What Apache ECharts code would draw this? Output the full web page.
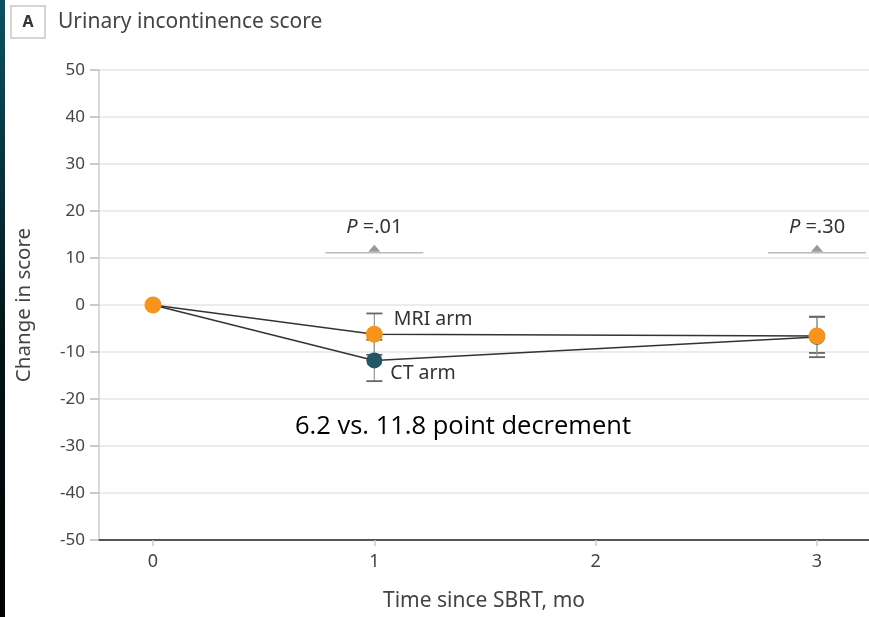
<!DOCTYPE html>
<html>
<head>
<meta charset="utf-8">
<script src="https://cdn.jsdelivr.net/npm/echarts@6/dist/echarts.min.js"></script>
<style>
html,body{margin:0;padding:0;background:#fff;}
#chart{width:869px;height:617px;}
</style>
</head>
<body>
<div id="chart"></div>
<script>
// ---- data ----
const months = [0, 1, 3];
const mriArm = [0, -6.2, -6.6];
const ctArm = [0, -11.8, -6.8];
const mriCILow = [null, -10.6, -10.2];
const mriCIHigh = [null, -1.8, -2.5];
const ctCILow = [null, -16.2, -11.1];
const ctCIHigh = [null, -7.4, -2.5];
const xTicks = [0, 1, 2, 3];
const pMonths = [1, 3];
const pLevel = [11.1, 11.1];
const pValues = ['.01', '.30'];
const armLabels = ['MRI arm', 'CT arm'];
const titleText = 'Urinary incontinence score';
const panelLetter = 'A';
const noteText = '6.2 vs. 11.8 point decrement';

const FONT = 'Noto Sans';
const chart = echarts.init(document.getElementById('chart'));

const errData = [];
months.forEach((m, i) => {
  if (mriCILow[i] != null) errData.push([m, mriCILow[i], mriCIHigh[i]]);
  if (ctCILow[i] != null) errData.push([m, ctCILow[i], ctCIHigh[i]]);
});

function seriesData(vals, labelIdx, text, offset) {
  return months.map((m, i) => {
    const d = { value: [m, vals[i]] };
    if (i === labelIdx) {
      d.label = { show: true, formatter: text, position: 'right', offset: offset,
        fontFamily: FONT, fontSize: 19.5, color: '#333' };
    }
    return d;
  });
}

const option = {
  animation: false,
  backgroundColor: '#fff',
  grid: { left: 99, right: 0, top: 70, bottom: 77, containLabel: false },
  xAxis: {
    type: 'value', min: -0.244, max: 3.235,
    name: 'Time since SBRT, mo', nameLocation: 'middle', nameGap: 51,
    nameTextStyle: { fontFamily: FONT, fontSize: 21, color: '#444' },
    axisLine: { show: true, onZero: false, lineStyle: { color: '#555', width: 2 } },
    axisTick: { show: true, customValues: xTicks, length: 6, lineStyle: { color: '#ccc', width: 1.5 } },
    axisLabel: { customValues: xTicks, margin: 13, fontFamily: FONT, fontSize: 18, color: '#444' },
    splitLine: { show: false }
  },
  yAxis: {
    type: 'value', min: -50, max: 50, interval: 10,
    name: 'Change in score', nameLocation: 'middle', nameGap: 64, nameRotate: 90,
    nameTextStyle: { fontFamily: FONT, fontSize: 20.5, color: '#444' },
    axisLine: { show: true, onZero: false, lineStyle: { color: '#ccc', width: 1.5 } },
    axisTick: { show: true, length: 9, lineStyle: { color: '#bbb', width: 1.5 } },
    axisLabel: { margin: 14, fontFamily: FONT, fontSize: 17, color: '#444' },
    splitLine: { show: true, lineStyle: { color: '#e6e6e6', width: 1.5 } }
  },
  graphic: [
    { type: 'rect', left: 0, top: 0, shape: { width: 5, height: 617 },
      style: { fill: new echarts.graphic.LinearGradient(0, 0, 0, 1, [
        { offset: 0, color: '#0b5263' }, { offset: 0.55, color: '#021418' }, { offset: 1, color: '#000' }]) } },
    { type: 'rect', shape: { x: 11, y: 6, width: 34, height: 32 },
      style: { fill: '#fff', stroke: '#c8c8c8', lineWidth: 1.5 } },
    { type: 'text', x: 28, y: 22, style: { text: panelLetter, fontFamily: FONT, fontWeight: 'bold',
      fontSize: 16, fill: '#333', align: 'center', verticalAlign: 'middle' } },
    { type: 'text', x: 58, y: 22, style: { text: titleText, fontFamily: FONT,
      fontSize: 21, fill: '#444', align: 'left', verticalAlign: 'middle' } },
    { type: 'text', x: 463, y: 427, style: { text: noteText, fontFamily: 'Open Sans',
      fontSize: 25.5, fill: '#000', align: 'center', verticalAlign: 'middle' } }
  ],
  series: [
    {
      type: 'custom', name: 'ci', z: 1,
      data: errData,
      renderItem: function (params, api) {
        const x = api.value(0);
        const lo = api.coord([x, api.value(1)]);
        const hi = api.coord([x, api.value(2)]);
        const w = 8;
        return { type: 'group', children: [
          { type: 'line', shape: { x1: lo[0], y1: lo[1], x2: hi[0], y2: hi[1] },
            style: { stroke: '#999', lineWidth: 1.2 } },
          { type: 'line', shape: { x1: lo[0] - w, y1: lo[1], x2: lo[0] + w, y2: lo[1] },
            style: { stroke: '#666', lineWidth: 1.8 } },
          { type: 'line', shape: { x1: hi[0] - w, y1: hi[1], x2: hi[0] + w, y2: hi[1] },
            style: { stroke: '#666', lineWidth: 1.8 } }
        ] };
      }
    },
    {
      type: 'custom', name: 'p', z: 1,
      data: pMonths.map((m, i) => [m, pLevel[i], pValues[i]]),
      renderItem: function (params, api) {
        const c = api.coord([api.value(0), api.value(1)]);
        const txt = pValues[params.dataIndex];
        return { type: 'group', children: [
          { type: 'line', shape: { x1: c[0] - 49, y1: c[1], x2: c[0] + 49, y2: c[1] },
            style: { stroke: '#bbb', lineWidth: 1.5 } },
          { type: 'polygon', shape: { points: [[c[0] - 6, c[1] - 1], [c[0] + 6, c[1] - 1], [c[0], c[1] - 8]] },
            style: { fill: '#999' } },
          { type: 'text', x: c[0], y: c[1] - 26, style: {
            text: '{i|P} =' + txt,
            rich: { i: { fontStyle: 'italic', fontFamily: FONT, fontSize: 20, fill: '#333' } },
            fontFamily: FONT, fontSize: 20, fill: '#333', align: 'center', verticalAlign: 'middle' } }
        ] };
      }
    },
    {
      type: 'line', name: 'CT arm', z: 3,
      data: seriesData(ctArm, 1, armLabels[1], [3, 13]),
      symbol: 'circle', symbolSize: 16,
      itemStyle: { color: '#245766', borderWidth: 0 },
      lineStyle: { color: '#333', width: 1.5 }
    },
    {
      type: 'line', name: 'MRI arm', z: 4,
      data: seriesData(mriArm, 1, armLabels[0], [6, -15]),
      symbol: 'circle', symbolSize: 17,
      itemStyle: { color: '#f7941d', borderWidth: 0 },
      lineStyle: { color: '#333', width: 1.5 }
    }
  ]
};
chart.setOption(option);
</script>
</body>
</html>
